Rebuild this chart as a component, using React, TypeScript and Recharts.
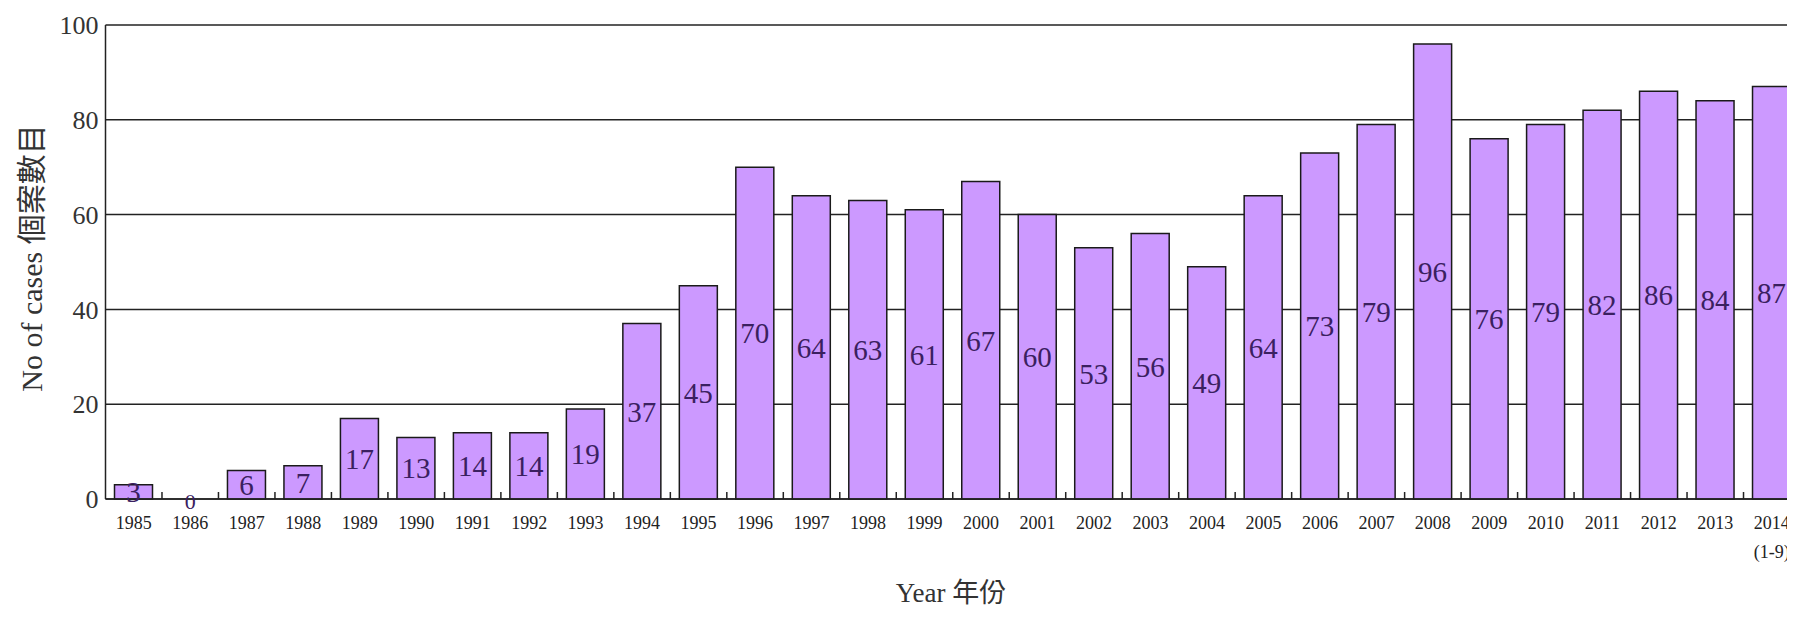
import React from "react";
import { BarChart, Bar, XAxis, YAxis, CartesianGrid, LabelList } from "recharts";

const years = [
  "1985", "1986", "1987", "1988", "1989", "1990", "1991", "1992", "1993", "1994",
  "1995", "1996", "1997", "1998", "1999", "2000", "2001", "2002", "2003", "2004",
  "2005", "2006", "2007", "2008", "2009", "2010", "2011", "2012", "2013", "2014",
];
const yearNotes: Record<string, string> = { "2014": "(1-9)" };
const cases = [
  3, 0, 6, 7, 17, 13, 14, 14, 19, 37,
  45, 70, 64, 63, 61, 67, 60, 53, 56, 49,
  64, 73, 79, 96, 76, 79, 82, 86, 84, 87,
];
const yTicks = [0, 20, 40, 60, 80, 100];

const data = years.map((y, i) => ({ year: y, cases: cases[i] }));

const FONT = "'Liberation Serif', 'Noto Sans CJK TC', serif";
const LABEL_COLOR = "#3a2060";
const CHART_W = 1820;
const CHART_H = 605;
const MARGIN = { top: 17, right: 28, left: 0, bottom: 54 };
const Y_AXIS_W = 97.5;
const BAND = (CHART_W - MARGIN.right - MARGIN.left - Y_AXIS_W) / years.length;

const YearTick = (props: any) => {
  const { x, y, payload } = props;
  const note = yearNotes[payload.value];
  const idx = years.indexOf(payload.value);
  const value = idx >= 0 ? cases[idx] : null;
  return (
    <g>
      <line x1={x + BAND / 2} x2={x + BAND / 2} y1={y} y2={y - 7} stroke="#222" strokeWidth={1.5} />
      {value === 0 ? (
        <text x={x} y={y + 2} textAnchor="middle" dominantBaseline="central" fontSize={22} fill={LABEL_COLOR} fontFamily={FONT}>
          {value}
        </text>
      ) : null}
      <text x={x} y={y + 24} textAnchor="middle" dominantBaseline="central" fontSize={18} fill="#222" fontFamily={FONT}>
        {payload.value}
      </text>
      {note ? (
        <text x={x} y={y + 53} textAnchor="middle" dominantBaseline="central" fontSize={18} fill="#222" fontFamily={FONT}>
          {note}
        </text>
      ) : null}
    </g>
  );
};

export default function App() {
  return (
    <div style={{ position: "relative", width: 1787, height: 605, overflow: "hidden", fontFamily: FONT }}>
      <BarChart width={CHART_W} height={CHART_H} data={data} margin={MARGIN}>
        <CartesianGrid vertical={false} stroke="#222" strokeWidth={1.5} />
        <XAxis
          dataKey="year"
          interval={0}
          tickLine={false}
          tickSize={0}
          tickMargin={0}
          height={60}
          axisLine={{ stroke: "#222", strokeWidth: 1.5 }}
          tick={<YearTick />}
        />
        <YAxis
          width={Y_AXIS_W}
          domain={[0, 100]}
          ticks={yTicks}
          interval={0}
          tickLine={false}
          tickSize={0}
          tickMargin={7}
          axisLine={{ stroke: "#222", strokeWidth: 1.5 }}
          tick={{ fontSize: 26, fill: "#333", fontFamily: FONT }}
        />
        <Bar dataKey="cases" fill="#cc99ff" stroke="#1a1a1a" strokeWidth={1.5} barSize={38} isAnimationActive={false}>
          <LabelList dataKey="cases" position="center" fontSize={29} fill={LABEL_COLOR} fontFamily={FONT} />
        </Bar>
      </BarChart>
      <div
        style={{
          position: "absolute",
          left: 24,
          top: 250,
          transform: "translate(-50%, -50%) rotate(-90deg)",
          whiteSpace: "nowrap",
          fontSize: 30,
          lineHeight: 1,
          color: "#333",
        }}
      >
        No of cases 個案數目
      </div>
      <div
        style={{
          position: "absolute",
          left: 943,
          top: 585,
          transform: "translate(-50%, -50%)",
          whiteSpace: "nowrap",
          fontSize: 27,
          lineHeight: 1,
          color: "#333",
        }}
      >
        Year 年份
      </div>
    </div>
  );
}
